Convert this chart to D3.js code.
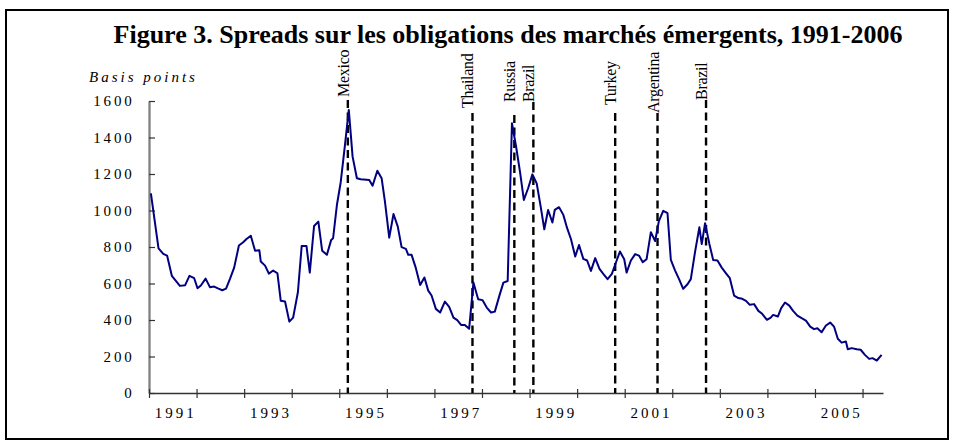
<!DOCTYPE html>
<html>
<head>
<meta charset="utf-8">
<script src="https://cdn.jsdelivr.net/npm/d3@7"></script>
<style>
  body { margin: 0; background: #fff; }
  text { font-family: "Liberation Serif", "Times New Roman", serif; }
</style>
</head>
<body>
<div id="chart"></div>
<script>
// monthly spreads (year as decimal, basis points)
var dates = [1991.04, 1991.20, 1991.30, 1991.38, 1991.48, 1991.65, 1991.76, 1991.85, 1991.95,
  1992.02, 1992.09, 1992.19, 1992.28, 1992.37, 1992.46, 1992.54, 1992.62, 1992.70, 1992.79, 1992.89, 1992.98,
  1993.05, 1993.14, 1993.23, 1993.32, 1993.35, 1993.44, 1993.52, 1993.61, 1993.70, 1993.77, 1993.86, 1993.95,
  1994.03, 1994.13, 1994.21, 1994.31, 1994.38, 1994.47, 1994.56, 1994.64, 1994.74, 1994.83, 1994.87, 1994.95,
  1995.03, 1995.12, 1995.20, 1995.28, 1995.37, 1995.45, 1995.63, 1995.70, 1995.80, 1995.89, 1995.96,
  1996.05, 1996.14, 1996.23, 1996.31, 1996.40, 1996.45, 1996.52, 1996.61, 1996.70, 1996.79, 1996.87, 1996.94,
  1997.03, 1997.12, 1997.22, 1997.31, 1997.40, 1997.48, 1997.56, 1997.64, 1997.73, 1997.82, 1997.92,
  1998.01, 1998.10, 1998.19, 1998.27, 1998.36, 1998.45, 1998.54, 1998.63, 1998.72, 1998.80, 1998.88, 1998.97,
  1999.06, 1999.15, 1999.24, 1999.31, 1999.39, 1999.48, 1999.53, 1999.62, 1999.71, 1999.79, 1999.87, 1999.96,
  2000.04, 2000.13, 2000.21, 2000.29, 2000.38, 2000.47, 2000.55, 2000.64, 2000.73, 2000.81, 2000.90, 2000.99,
  2001.04, 2001.13, 2001.22, 2001.30, 2001.38, 2001.46, 2001.55, 2001.64, 2001.72, 2001.81, 2001.90, 2001.97,
  2002.06, 2002.15, 2002.23, 2002.32, 2002.39, 2002.48, 2002.57, 2002.62, 2002.69, 2002.78, 2002.86, 2002.95,
  2003.04, 2003.13, 2003.21, 2003.30, 2003.39, 2003.47, 2003.55, 2003.63, 2003.72, 2003.81, 2003.89, 2003.99,
  2004.07, 2004.12, 2004.22, 2004.29, 2004.37, 2004.46, 2004.54, 2004.63, 2004.72, 2004.81, 2004.90, 2004.98,
  2005.05, 2005.14, 2005.23, 2005.32, 2005.40, 2005.48, 2005.56, 2005.65, 2005.69, 2005.77, 2005.88, 2005.96,
  2006.05, 2006.14, 2006.21, 2006.30, 2006.40];

var spreads = [1094, 793, 762, 753, 642, 587, 591, 642, 629,
  574, 589, 627, 580, 583, 572, 563, 572, 624, 687, 808, 826,
  844, 862, 779, 782, 720, 698, 654, 671, 656, 505, 501, 391,
  413, 552, 806, 806, 660, 915, 939, 780, 757, 839, 848, 1030,
  1155, 1359, 1551, 1295, 1177, 1171, 1167, 1136, 1218, 1177, 1049,
  851, 981, 912, 799, 790, 757, 757, 684, 592, 633, 561, 534,
  461, 441, 501, 472, 413, 399, 373, 373, 352, 605, 514,
  509, 468, 441, 446, 528, 605, 614, 1478, 1345, 1210, 1058, 1122,
  1198, 1149, 1012, 897, 1003, 934, 1003, 1018, 976, 903, 844, 748,
  811, 735, 726, 669, 739, 680, 653, 624, 653, 711, 775, 733,
  660, 726, 761, 753, 717, 733, 881, 833, 943, 998, 985, 729,
  671, 620, 571, 596, 624, 775, 908, 816, 930, 817, 729, 726,
  687, 656, 629, 534, 520, 516, 505, 483, 487, 450, 434, 401,
  413, 428, 419, 465, 496, 479, 450, 424, 410, 397, 364, 350,
  355, 333, 370, 386, 364, 297, 276, 282, 240, 246, 240, 237,
  209, 187, 191, 178, 209];

// crisis markers
var crisisNames = ["Mexico", "Thailand", "Russia", "Brazil", "Turkey", "Argentina", "Brazil"];
var crisisDates = [1995.18, 1997.80, 1998.68, 1999.08, 2000.80, 2001.69, 2002.71];
var crisisTops = [1606, 1534, 1523, 1594, 1534, 1534, 1606];  // top of each dashed line, bp

var yTicks = [0, 200, 400, 600, 800, 1000, 1200, 1400, 1600];
var yearTicks = d3.range(1991, 2007);
var yearLabels = [1991, 1993, 1995, 1997, 1999, 2001, 2003, 2005];

var svgWidth = 954;
var svgHeight = 443;

var svg = d3.select("#chart")
  .append("svg")
  .attr("width", svgWidth)
  .attr("height", svgHeight);

// outer frame
svg.append("rect")
  .attr("x", 6).attr("y", 10)
  .attr("width", 942).attr("height", 429)
  .attr("fill", "none")
  .attr("stroke", "#000")
  .attr("stroke-width", 2);

svg.append("text")
  .attr("x", 508).attr("y", 43)
  .attr("text-anchor", "middle")
  .attr("font-size", 26)
  .attr("font-weight", "bold")
  .text("Figure 3. Spreads sur les obligations des marchés émergents, 1991-2006");

svg.append("text")
  .attr("x", 89).attr("y", 82)
  .attr("font-size", 15)
  .attr("font-style", "italic")
  .attr("letter-spacing", "3px")
  .text("Basis points");

var x = d3.scaleLinear().domain([1991, 2006.43]).range([149, 883]);
var y = d3.scaleLinear().domain([0, 1600]).range([393, 101]);

// y axis - gray line, ticks pointing inward
var yAxis = svg.append("g")
  .attr("transform", "translate(149,0)")
  .call(d3.axisLeft(y).tickValues(yTicks).tickFormat(d3.format("d"))
    .tickSizeInner(-6).tickSizeOuter(0).tickPadding(14.5));
yAxis.select(".domain").attr("stroke", "#808080").attr("stroke-width", 2.3);
yAxis.selectAll(".tick line").attr("stroke", "#333").attr("stroke-width", 1.2);
yAxis.selectAll("text")
  .attr("font-size", 15)
  .attr("letter-spacing", "2.8px")
  .attr("fill", "#000");

// x axis
var xAxis = svg.append("g")
  .attr("transform", "translate(0,393)")
  .call(d3.axisBottom(x).tickValues(yearTicks).tickFormat("").tickSizeOuter(0));
xAxis.select(".domain").attr("stroke", "#333").attr("stroke-width", 1.5);
xAxis.selectAll(".tick line")
  .attr("y1", -4).attr("y2", 5)
  .attr("stroke", "#333").attr("stroke-width", 1.2);

svg.append("g").selectAll("text")
  .data(yearLabels)
  .enter()
  .append("text")
  .attr("x", d => x(d + 0.5) + 3)
  .attr("y", 418)
  .attr("text-anchor", "middle")
  .attr("font-size", 15)
  .attr("letter-spacing", "3px")
  .text(d => d);

// dashed crisis lines + rotated labels
var labelGap = [3, 5, 13, 0, 8, 0, 0];  // px between label and top of dash
var crises = crisisNames.map((n, i) => ({ name: n, date: crisisDates[i], top: crisisTops[i], gap: labelGap[i] }));

svg.append("g").selectAll("line")
  .data(crises)
  .enter()
  .append("line")
  .attr("x1", d => x(d.date)).attr("x2", d => x(d.date))
  .attr("y1", d => y(d.top)).attr("y2", y(0))
  .attr("stroke", "#000")
  .attr("stroke-width", 2.4)
  .attr("stroke-dasharray", "8,4.5");

svg.append("g").selectAll("text")
  .data(crises)
  .enter()
  .append("text")
  .attr("transform", d => `translate(${x(d.date) + 1}, ${y(d.top) - d.gap}) rotate(-90)`)
  .attr("text-anchor", "start")
  .attr("font-size", 16)
  .attr("letter-spacing", "-0.3px")
  .text(d => d.name);

// spread line
var points = dates.map((d, i) => [d, spreads[i]]);
var line = d3.line()
  .x(d => x(d[0]))
  .y(d => y(d[1]));

svg.append("path")
  .datum(points)
  .attr("d", line)
  .attr("fill", "none")
  .attr("stroke", "#000080")
  .attr("stroke-width", 2)
  .attr("stroke-linejoin", "round");
</script>
</body>
</html>
